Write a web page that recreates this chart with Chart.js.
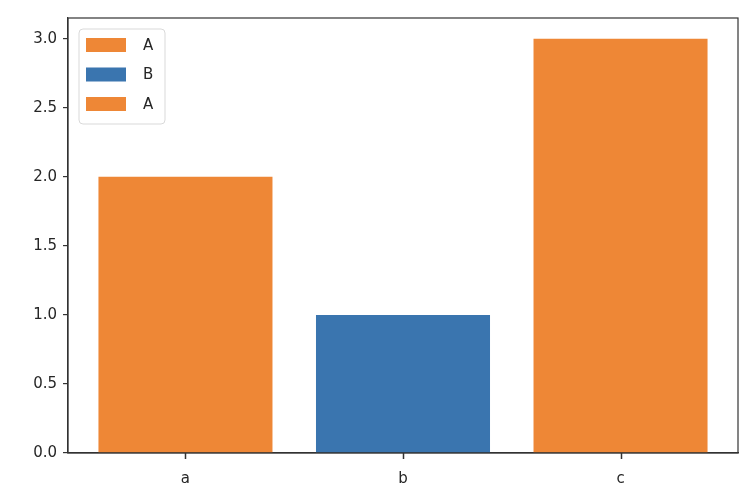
<!DOCTYPE html>
<html>
<head>
<meta charset="utf-8">
<script src="https://cdn.jsdelivr.net/npm/chart.js@4/dist/chart.umd.min.js"></script>
<style>
  html, body { margin: 0; padding: 0; background: #fff; }
  #wrap { width: 750px; height: 500px; }
</style>
</head>
<body>
<div id="wrap"><canvas id="chart"></canvas></div>
<script>
// Data
const categories = ['a', 'b', 'c'];
const seriesLabels = ['A', 'B', 'A'];
const seriesValues = [
  [2, null, null],
  [null, 1, null],
  [null, null, 3]
];
const seriesColors = ['rgb(238,135,54)', 'rgb(58,117,175)', 'rgb(238,135,54)'];
const yTicks = [0, 0.5, 1, 1.5, 2, 2.5, 3];

const TEXT = '#262626';
const FONT = { family: 'DejaVu Sans', size: 15 };

// Axes frame (top/right spines like matplotlib) plus x tick marks
const framePlugin = {
  id: 'frame',
  afterDraw(chart) {
    const { ctx, chartArea: a } = chart;
    const xs = chart.scales.x;
    ctx.save();
    ctx.strokeStyle = '#333';
    ctx.lineWidth = 1.2;
    ctx.strokeRect(a.left, a.top, a.right - a.left, a.bottom - a.top);
    ctx.restore();
    ctx.save();
    ctx.strokeStyle = '#333';
    ctx.lineWidth = 1.5;
    categories.forEach((_, j) => {
      const px = Math.round(xs.getPixelForValue(j)) + 0.5;
      ctx.beginPath();
      ctx.moveTo(px, a.bottom);
      ctx.lineTo(px, a.bottom + 6);
      ctx.stroke();
    });
    ctx.restore();
  }
};

// Legend drawn inside the plot, upper left
const innerLegend = {
  id: 'innerLegend',
  afterDraw(chart) {
    const { ctx, chartArea: a } = chart;
    const x0 = a.left + 11, y0 = a.top + 11;
    const w = 86, rowH = 29.5, h = 95;
    ctx.save();
    ctx.fillStyle = 'rgba(255,255,255,0.8)';
    ctx.strokeStyle = '#d9d9d9';
    ctx.lineWidth = 1;
    ctx.beginPath();
    ctx.roundRect(x0, y0, w, h, 4);
    ctx.fill();
    ctx.stroke();
    ctx.font = FONT.size + 'px ' + FONT.family;
    ctx.textBaseline = 'middle';
    chart.data.datasets.forEach((ds, i) => {
      const cy = y0 + 16 + i * rowH;
      ctx.fillStyle = ds.backgroundColor;
      ctx.fillRect(x0 + 7, cy - 7, 40, 14);
      ctx.fillStyle = TEXT;
      ctx.fillText(ds.label, x0 + 64, cy + 1);
    });
    ctx.restore();
  }
};

const chart = new Chart(document.getElementById('chart'), {
  type: 'bar',
  data: {
    datasets: seriesLabels.map((label, i) => ({
      label: label,
      data: seriesValues[i]
        .map((v, j) => ({ x: j, y: v }))
        .filter(p => p.y !== null),
      backgroundColor: seriesColors[i],
      borderWidth: 0,
      barPercentage: 0.8,
      categoryPercentage: 1
    }))
  },
  options: {
    responsive: true,
    maintainAspectRatio: false,
    animation: false,
    devicePixelRatio: 1,
    layout: { padding: { top: 18, right: 12, left: 0, bottom: 0 } },
    plugins: {
      legend: { display: false },
      tooltip: { enabled: false }
    },
    scales: {
      x: {
        type: 'linear',
        stacked: true,
        offset: false,
        min: -0.54,
        max: 2.54,
        afterBuildTicks(scale) { scale.ticks = categories.map((_, j) => ({ value: j })); },
        grid: { display: false },
        border: { display: true, color: '#333', width: 1.2 },
        ticks: { color: TEXT, font: FONT, padding: 9, callback: v => categories[v] },
        afterFit(scale) { scale.height = 47; }
      },
      y: {
        stacked: true,
        min: 0,
        max: 3.15,
        afterBuildTicks(scale) { scale.ticks = yTicks.map(v => ({ value: v })); },
        grid: { display: true, drawOnChartArea: false, tickLength: 5, color: '#333', lineWidth: 1.2 },
        border: { display: true, color: '#333', width: 1.2 },
        ticks: { color: TEXT, font: FONT, padding: 6, callback: v => v.toFixed(1) },
        afterFit(scale) { scale.width = 68; }
      }
    }
  },
  plugins: [framePlugin, innerLegend]
});
</script>
</body>
</html>
